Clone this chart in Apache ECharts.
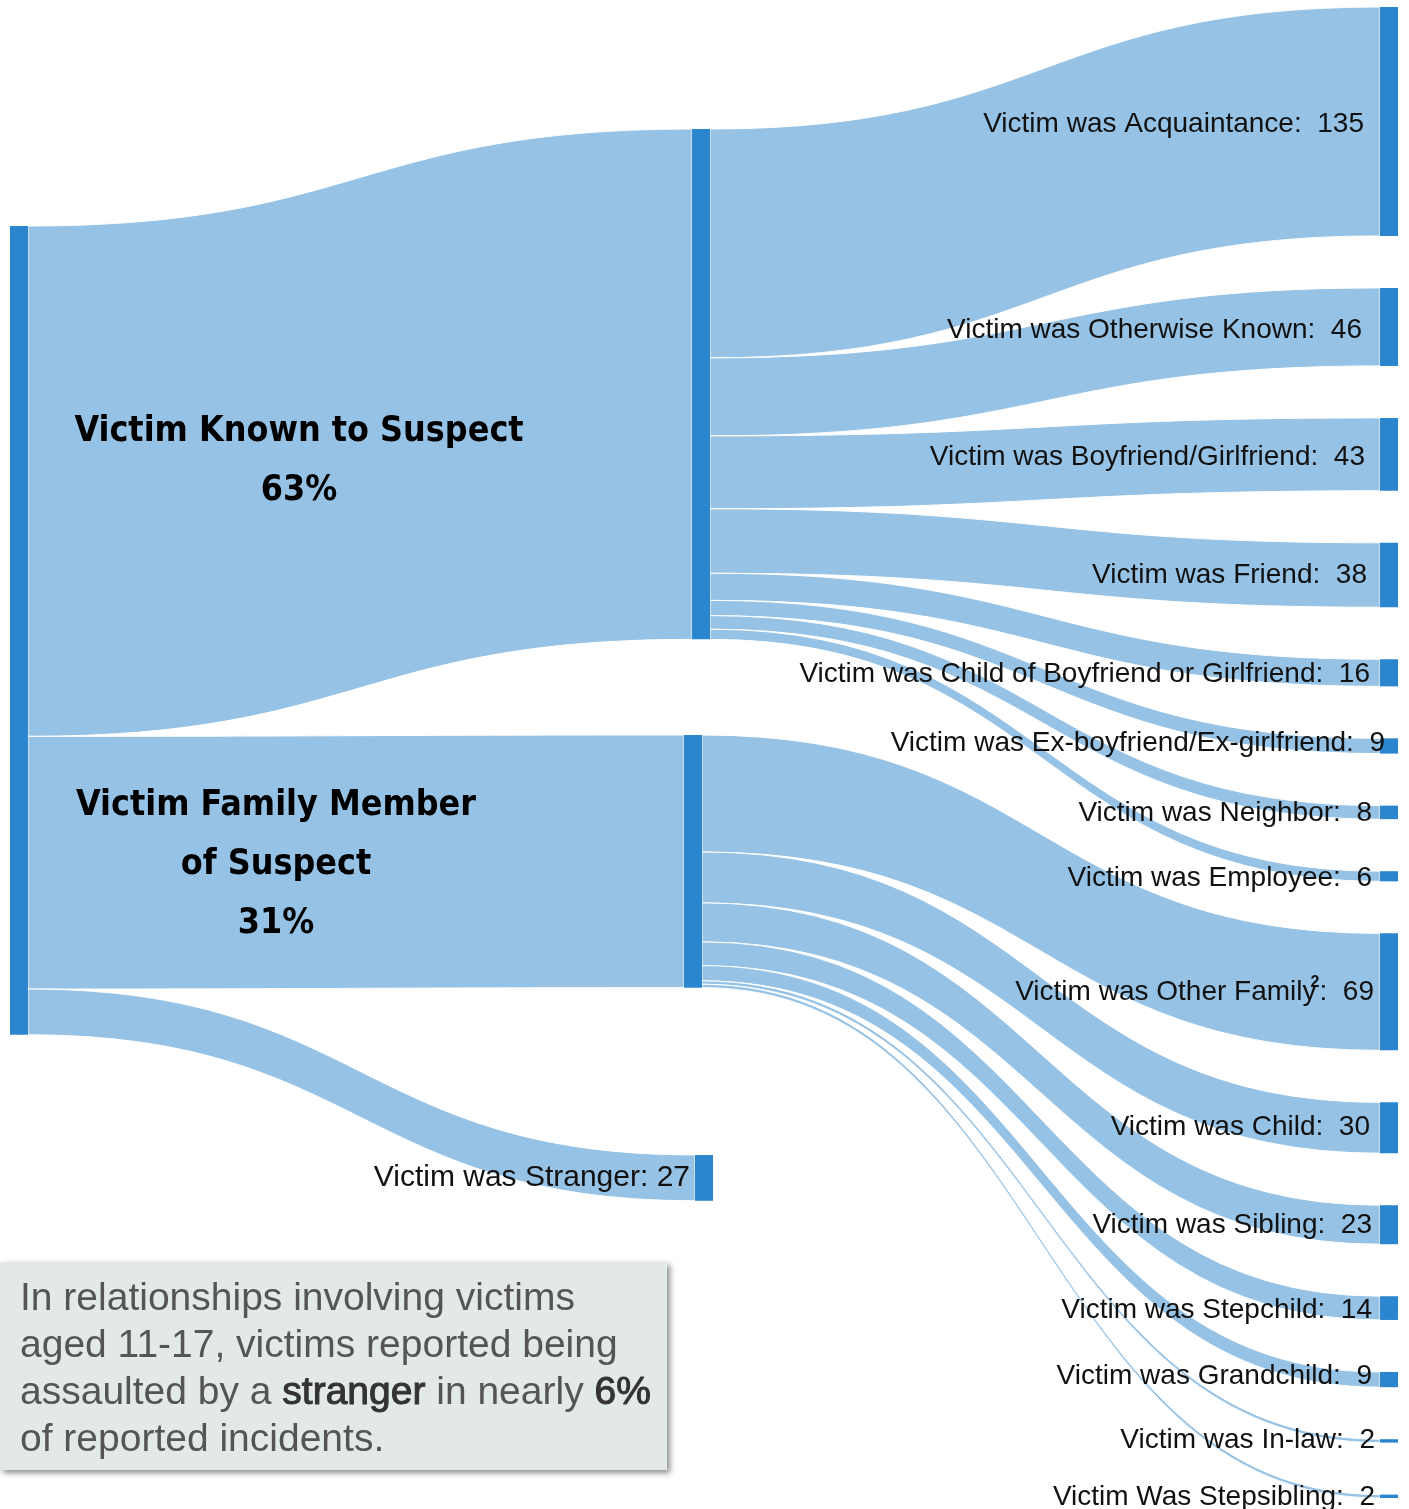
<!DOCTYPE html>
<html>
<head>
<meta charset="utf-8">
<script src="https://cdn.jsdelivr.net/npm/echarts@6/dist/echarts.min.js"></script>
<style>
  html, body { margin: 0; padding: 0; background: #ffffff; }
  #chart { width: 1409px; height: 1509px; }
</style>
</head>
<body>
<div id="chart"></div>
<script>
// ---- data ----
const rootName = 'All relationships';
const knownName = 'Victim Known to Suspect';
const familyName = 'Victim Family Member of Suspect';
const strangerName = 'Victim was Stranger';
const strangerValue = 27;

const knownTargets = [
  'Victim was Acquaintance',
  'Victim was Otherwise Known',
  'Victim was Boyfriend/Girlfriend',
  'Victim was Friend',
  'Victim was Child of Boyfriend or Girlfriend',
  'Victim was Ex-boyfriend/Ex-girlfriend',
  'Victim was Neighbor',
  'Victim was Employee'
];
const knownValues = [135, 46, 43, 38, 16, 9, 8, 6];

const familyTargets = [
  'Victim was Other Family',
  'Victim was Child',
  'Victim was Sibling',
  'Victim was Stepchild',
  'Victim was Grandchild',
  'Victim was In-law',
  'Victim Was Stepsibling'
];
const familyValues = [69, 30, 23, 14, 9, 2, 2];

// ---- layout / style ----
const area = { left: 10, top: 7, width: 1388, height: 1491 };
// pixel anchors (top-left) for the first two columns
const pinned = {};
pinned[rootName] = [10, 226];
pinned[knownName] = [692, 129];
pinned[familyName] = [684, 735];
pinned[strangerName] = [695, 1155];

// per-label nudges for the right column: [distance from node, vertical offset]
const leafLabelNudge = {
  'Victim was Acquaintance': [16, 3],
  'Victim was Otherwise Known': [18, 3],
  'Victim was Boyfriend/Girlfriend': [15, 3],
  'Victim was Friend': [13, 0],
  'Victim was Child of Boyfriend or Girlfriend': [10, 1],
  'Victim was Ex-boyfriend/Ex-girlfriend': [-5, -3],
  'Victim was Neighbor': [8, 1],
  'Victim was Employee': [8, 2],
  'Victim was Other Family': [6, 0],
  'Victim was Child': [10, -1],
  'Victim was Sibling': [8, 1],
  'Victim was Stepchild': [8, 2],
  'Victim was Grandchild': [8, -3],
  'Victim was In-law': [5, -1],
  'Victim Was Stepsibling': [5, 1]
};

const linkColor = '#95c2e5';
const nodeColor = '#2b86cf';
const labelFont = "'Liberation Sans', Arial, sans-serif";
const headFont = "'DejaVu Sans Condensed', 'Liberation Sans', sans-serif";

const sum = arr => arr.reduce((a, b) => a + b, 0);
const knownTotal = sum(knownValues);
const familyTotal = sum(familyValues);
const grandTotal = knownTotal + familyTotal + strangerValue;
const pct = v => Math.round(v / grandTotal * 100) + '%';

function pin(name) {
  const p = pinned[name];
  return {
    localX: (p[0] - area.left) / area.width,
    localY: (p[1] - area.top) / area.height
  };
}

function leafLabel(name) {
  const n = leafLabelNudge[name] || [10, 0];
  return {
    show: true,
    position: 'left',
    distance: n[0],
    offset: [0, n[1]],
    fontFamily: labelFont,
    fontSize: 28,
    color: '#111111',
    formatter: function (p) {
      if (p.name === 'Victim was Other Family') {
        return p.name + '{sup|2}{colon|:}  ' + p.value;
      }
      return p.name + ':  ' + p.value;
    },
    rich: {
      sup: { fontFamily: labelFont, fontSize: 16, fontWeight: 'bold', color: '#111111', verticalAlign: 'top', padding: [0, 0, 18, 0], width: 3 },
      colon: { fontFamily: labelFont, fontSize: 28, color: '#111111' }
    }
  };
}

const headLabelBase = {
  show: true, position: 'left',
  align: 'center', verticalAlign: 'middle',
  fontFamily: headFont, fontWeight: 'bold', fontSize: 35.5, lineHeight: 59, color: '#000000'
};

const nodes = [];
nodes.push(Object.assign({ name: rootName, label: { show: false } }, pin(rootName)));
nodes.push(Object.assign({
  name: knownName,
  label: Object.assign({}, headLabelBase, {
    distance: 393, offset: [0, 77],
    formatter: 'Victim Known to Suspect\n' + pct(knownTotal)
  })
}, pin(knownName)));
nodes.push(Object.assign({
  name: familyName,
  label: Object.assign({}, headLabelBase, {
    distance: 408, offset: [0, 3],
    formatter: 'Victim Family Member\nof Suspect\n' + pct(familyTotal)
  })
}, pin(familyName)));
nodes.push(Object.assign({
  name: strangerName,
  label: {
    show: true, position: 'left', distance: 5,
    fontFamily: labelFont, fontSize: 30, color: '#111111',
    formatter: '{b}: {c}'
  }
}, pin(strangerName)));
knownTargets.concat(familyTargets).forEach(function (n) {
  nodes.push({ name: n, label: leafLabel(n) });
});

const links = [
  { source: rootName, target: knownName, value: knownTotal },
  { source: rootName, target: familyName, value: familyTotal },
  { source: rootName, target: strangerName, value: strangerValue }
];
knownTargets.forEach((t, i) => links.push({ source: knownName, target: t, value: knownValues[i] }));
familyTargets.forEach((t, i) => links.push({ source: familyName, target: t, value: familyValues[i] }));

const chart = echarts.init(document.getElementById('chart'), null, { renderer: 'canvas' });
chart.setOption({
  animation: false,
  backgroundColor: '#ffffff',
  series: [{
    type: 'sankey',
    left: area.left,
    top: area.top,
    width: area.width,
    height: area.height,
    nodeWidth: 18,
    nodeGap: 52,
    nodeAlign: 'left',
    layoutIterations: 0,
    draggable: false,
    emphasis: { disabled: true },
    itemStyle: { color: nodeColor, borderWidth: 0 },
    lineStyle: { color: linkColor, opacity: 1, curveness: 0.5, borderColor: '#ffffff', borderWidth: 1 },
    data: nodes,
    links: links
  }],
  graphic: [{
    type: 'rect',
    shape: { x: 0, y: 1262, width: 667, height: 208 },
    style: {
      fill: '#e3e9e6',
      shadowBlur: 6, shadowOffsetX: 3, shadowOffsetY: 3,
      shadowColor: 'rgba(0,0,0,0.45)'
    },
    z: 10
  }, {
    type: 'text',
    x: 20, y: 1276,
    z: 11,
    style: {
      text: 'In relationships involving victims\naged 11-17, victims reported being\nassaulted by a {b|stranger} in nearly {b|6%}\nof reported incidents.',
      fontFamily: labelFont,
      fontSize: 39,
      lineHeight: 47,
      fill: '#555555',
      verticalAlign: 'top',
      rich: {
        b: { fontFamily: labelFont, fontSize: 39, lineHeight: 47, fill: '#333333', stroke: '#333333', lineWidth: 1 }
      }
    }
  }]
});
</script>
</body>
</html>
